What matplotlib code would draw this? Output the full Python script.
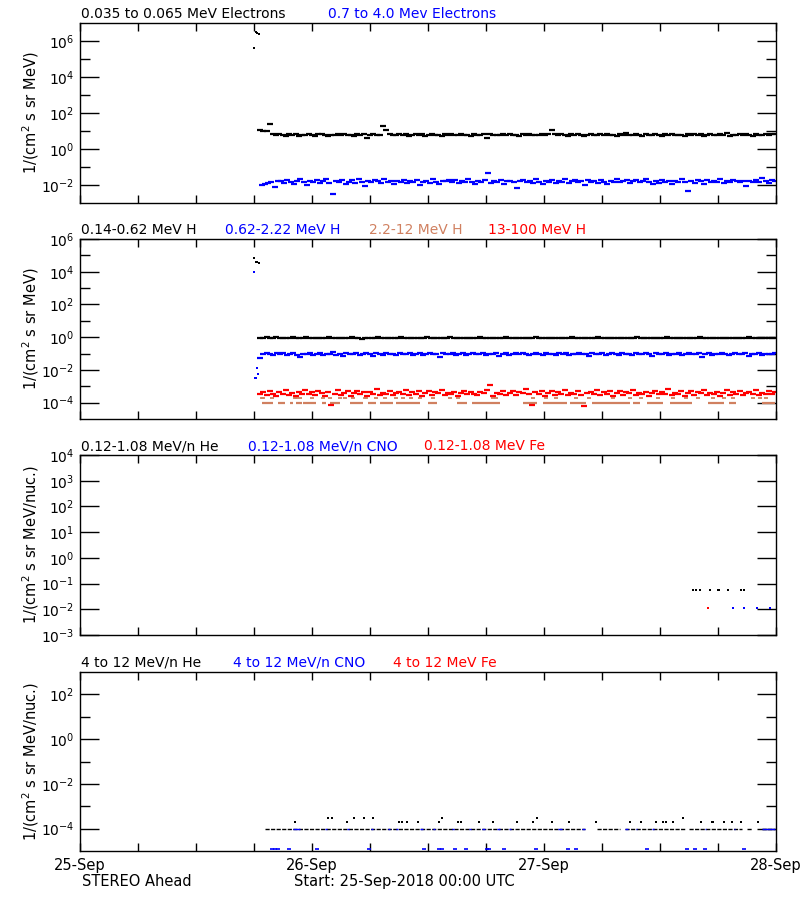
import numpy as np
import matplotlib
matplotlib.use("Agg")
import matplotlib.pyplot as plt
from matplotlib.ticker import FixedLocator, FuncFormatter, NullFormatter

plt.rcParams["font.family"] = ["DejaVu Sans"]
plt.rcParams["mathtext.fontset"] = "dejavusans"

# ---------------- time axis (days since 25-Sep-2018 00:00 UTC) ----------------
day_ticks = [0, 1, 2, 3]
day_labels = ["25-Sep", "26-Sep", "27-Sep", "28-Sep"]

# ---------------- panel 1 : electrons ----------------
elec_lo_spike_t = [0.750, 0.757, 0.764, 0.772]
elec_lo_spike_v = [4.3e5, 3.0e6, 2.7e6, 2.5e6]
elec_lo_span = (0.776, 2.997)
elec_lo_log = [
    1.05, 1.02, 0.98, 1.39, 0.82, 0.76, 0.85, 0.79, 0.74, 0.81, 0.78, 0.83, 0.72, 0.80,
    0.77, 0.84, 0.79, 0.75, 0.81, 0.86, 0.78, 0.73, 0.80, 0.77, 0.82, 0.79, 0.84, 0.76,
    0.80, 0.74, 0.83, 0.78, 0.81, 0.62, 0.79, 0.85, 0.77, 0.80, 1.30, 1.05, 0.82, 0.79,
    0.76, 0.84, 0.78, 0.81, 0.73, 0.80, 0.86, 0.77, 0.82, 0.75, 0.79, 0.83, 0.78, 0.80,
    0.74, 0.81, 0.77, 0.85, 0.79, 0.76, 0.82, 0.78, 0.80, 0.73, 0.84, 0.79, 0.77, 0.81,
    0.60, 0.83, 0.78, 0.80, 0.76, 0.82, 0.79, 0.85, 0.77, 0.80, 0.74, 0.81, 0.78, 0.83,
    0.76, 0.80, 0.79, 0.82, 0.77, 0.81, 1.05, 0.82, 0.78, 0.86, 0.80, 0.75, 0.81, 0.77,
    0.84, 0.79, 0.73, 0.80, 0.83, 0.78, 0.76, 0.82, 0.79, 0.85, 0.77, 0.80, 0.74, 0.81,
    0.78, 0.88, 0.80, 0.76, 0.82, 0.79, 0.75, 0.83, 0.78, 0.80, 0.86, 0.77, 0.72, 0.81,
    0.79, 0.84, 0.76, 0.80, 0.78, 0.70, 0.82, 0.79, 0.85, 0.77, 0.81, 0.74, 0.80, 0.83,
    0.78, 0.76, 0.82, 0.79, 0.87, 0.73, 0.80, 0.78, 0.84, 0.77, 0.81, 0.79, 0.75, 0.82,
    0.80, 0.78, 0.85, 0.77, 0.81, 0.83,
]
elec_hi_span = (0.783, 2.997)
elec_hi_log = [
    -2.02, -1.95, -1.90, -1.85, -2.10, -1.80, -1.75, -1.88, -1.70, -1.82, -1.93, -1.78,
    -1.68, -1.85, -1.98, -1.76, -1.83, -1.72, -1.90, -1.80, -1.65, -1.87, -2.48, -1.79,
    -1.84, -1.71, -1.95, -1.81, -1.74, -1.88, -1.69, -1.83, -2.05, -1.77, -1.86, -1.73,
    -1.80, -1.91, -1.66, -1.84, -1.78, -1.96, -1.75, -1.82, -1.70, -1.89, -1.79, -1.85,
    -1.72, -2.00, -1.81, -1.76, -1.87, -1.68, -1.83, -1.93, -1.77, -1.80, -1.74, -1.86,
    -1.71, -1.90, -1.79, -1.84, -1.67, -1.82, -1.97, -1.76, -1.81, -1.73, -1.35, -1.88,
    -1.78, -1.83, -1.70, -1.92, -1.80, -1.75, -1.86, -2.15, -1.79, -1.72, -1.84, -1.77,
    -1.89, -1.69, -1.81, -1.94, -1.76, -1.83, -1.71, -1.87, -1.78, -1.82, -1.66, -1.90,
    -1.80, -1.74, -1.85, -1.79, -2.02, -1.73, -1.84, -1.77, -1.88, -1.70, -1.81, -1.95,
    -1.76, -1.83, -1.68, -1.86, -1.79, -1.74, -1.91, -1.80, -1.72, -1.85, -1.78, -1.64,
    -1.82, -1.97, -1.75, -1.87, -1.71, -1.83, -1.79, -1.93, -1.76, -1.84, -1.69, -1.81,
    -2.33, -1.77, -1.88, -1.72, -1.80, -1.95, -1.74, -1.85, -1.78, -1.82, -1.67, -1.89,
    -1.76, -1.83, -1.71, -1.80, -1.86, -1.75, -2.05, -1.79, -1.84, -1.70, -1.81, -1.62,
    -1.77, -1.88, -1.73, -1.80,
]

# ---------------- panel 2 : protons ----------------
h_lo_spike_t = [0.751, 0.758, 0.764, 0.771]
h_lo_spike_v = [6.6e4, 4.2e4, 3.8e4, 3.3e4]
h_mid_spike_t = [0.752, 0.756, 0.760, 0.764, 0.768]
h_mid_spike_v = [1.0e4, 3.2e-3, 3.2e-3, 1.3e-2, 6.0e-3]
h_lo_span = (0.776, 2.997)
h_lo_log = [
    -0.02, -0.05, 0.00, -0.03, -0.06, -0.01, -0.04, -0.07, -0.02, -0.05, 0.01, -0.03,
    -0.06, -0.04, -0.01, -0.05, -0.08, -0.03, -0.02, -0.06, -0.04, 0.00, -0.05, -0.03,
    -0.07, -0.02, -0.04, -0.06, -0.01, -0.05, -0.03, -0.09, -0.04, -0.02, -0.06, -0.03,
    0.02, -0.05, -0.04, -0.07, -0.02, -0.03, -0.06, -0.01, -0.04, -0.05, -0.02, -0.08,
    -0.03, -0.06, -0.04, -0.01, -0.05, -0.03, -0.07, -0.02, -0.04, -0.06, 0.00, -0.05,
    -0.03, -0.04, -0.07, -0.02, -0.05, -0.03, -0.06, -0.01, -0.04, -0.08, -0.03, -0.05,
    -0.02, -0.06, -0.04, 0.01, -0.05, -0.03, -0.07, -0.04, -0.02, -0.06, -0.03, -0.05,
    -0.01, -0.04, -0.07, -0.03, -0.05, -0.02, -0.06, -0.04, -0.08, -0.03, -0.05, 0.00,
    -0.04, -0.06, -0.02, -0.05, -0.03, -0.07, -0.04, -0.01, -0.05, -0.03, -0.06, -0.02,
    -0.04, -0.07, -0.03, -0.05, -0.02, -0.06, -0.04, -0.01, -0.05, -0.08, -0.03, -0.04,
    -0.06, -0.02, -0.05, -0.03, 0.01, -0.04, -0.07, -0.03, -0.05, -0.02, -0.06, -0.04,
    -0.03, -0.05, -0.01, -0.06, -0.04, -0.07, -0.02, -0.05, -0.03, -0.04, -0.06, -0.02,
    -0.05, -0.08, -0.03, -0.04, -0.06, -0.01, -0.05, -0.03, -0.07, -0.04, -0.02, -0.05,
    -0.06, -0.03,
]
h_mid_span = (0.776, 2.997)
h_mid_log = [
    -1.25, -1.05, -0.98, -1.02, -1.10, -0.95, -1.04, -0.99, -1.08, -1.01, -0.94, -1.06,
    -1.20, -1.00, -1.03, -0.97, -1.07, -1.02, -0.96, -1.09, -1.01, -1.04, -0.93, -1.06,
    -1.00, -1.12, -0.98, -1.03, -1.05, -0.96, -1.08, -1.01, -0.99, -1.04, -1.15, -0.97,
    -1.02, -1.06, -0.95, -1.03, -1.00, -1.08, -0.98, -1.04, -1.01, -0.94, -1.07, -1.02,
    -0.99, -1.10, -1.03, -0.96, -1.05, -1.00, -1.22, -0.98, -1.04, -1.01, -0.97, -1.06,
    -1.02, -0.95, -1.08, -1.03, -0.99, -1.05, -1.00, -0.96, -1.09, -1.02, -1.04, -0.98,
    -1.14, -1.01, -0.97, -1.06, -1.03, -0.99, -1.05, -0.94, -1.02, -1.07, -1.00, -0.98,
    -1.04, -1.11, -0.96, -1.03, -1.01, -1.06, -0.99, -1.02, -0.95, -1.08, -1.04, -1.00,
    -0.97, -1.05, -1.02, -1.18, -0.98, -1.03, -1.01, -0.96, -1.07, -1.04, -0.99, -1.02,
    -1.06, -0.95, -1.03, -1.00, -1.09, -0.98, -1.04, -1.01, -0.97, -1.05, -1.12, -0.99,
    -1.03, -1.02, -0.96, -1.06, -1.00, -1.04, -0.98, -1.08, -1.01, -0.97, -1.05, -1.03,
    -0.99, -1.21, -1.02, -0.95, -1.06, -1.00, -1.04, -0.98, -1.03, -1.07, -1.01, -0.96,
    -1.05, -1.02, -0.99, -1.15, -1.04, -1.00, -0.97, -1.06, -1.03, -1.01, -1.05, -0.98,
]
h_hi_span = (0.776, 2.997)
h_hi_log = [
    -3.50, -3.38, -3.55, -3.30, -3.45, -3.58, -3.35, -3.48, -3.25, -3.52, -3.40, -3.60,
    -3.33, -3.46, -3.20, -3.50, -3.38, -3.55, -3.28, -3.44, -3.62, -3.36, -4.16, -3.48,
    -3.22, -3.53, -3.40, -3.31, -3.57, -3.43, -3.26, -3.50, -3.37, -3.59, -3.32, -3.45,
    -3.18, -3.52, -3.39, -3.47, -3.29, -3.56, -3.41, -3.34, -3.49, -3.23, -3.54, -3.38,
    -3.46, -3.30, -3.58, -3.42, -3.27, -3.51, -3.36, -3.44, -3.21, -3.55, -3.39, -3.48,
    -3.32, -3.60, -3.43, -3.28, -3.50, -3.37, -3.46, -3.53, -3.33, -3.41, -3.24, -2.90,
    -3.57, -3.39, -3.47, -3.30, -3.52, -3.40, -3.26, -3.55, -3.35, -3.44, -3.19, -3.50,
    -4.15, -3.38, -3.46, -3.31, -3.58, -3.42, -3.27, -3.53, -3.36, -3.45, -3.22, -3.51,
    -3.39, -3.48, -3.29, -3.56, -4.18, -3.43, -3.34, -3.49, -3.25, -3.54, -3.37, -3.46,
    -3.31, -3.59, -3.41, -3.28, -3.52, -3.38, -3.44, -3.20, -3.55, -3.40, -3.47, -3.33,
    -3.57, -3.42, -3.26, -3.50, -3.36, -3.45, -3.16, -3.53, -3.39, -3.48, -3.30, -3.58,
    -3.43, -3.27, -3.51, -3.37, -3.44, -3.21, -3.55, -3.40, -3.49, -3.32, -3.60, -3.42,
    -3.25, -3.52, -3.38, -3.46, -3.29, -3.56, -3.41, -3.34, -3.48, -3.23, -3.54, -3.39,
    -3.45, -3.31, -3.50, -3.36,
]
# 2.2-12 MeV H: one-count floor (1e-4) segments and 2e-4 points
h_22_floor = 1e-4
h_22_floor_start = [0.783, 0.854, 0.904, 0.933, 0.962, 1.041, 1.077, 1.163, 1.242, 1.292,
                    1.364, 1.499, 1.624, 1.688, 1.908, 1.994, 2.110, 2.209, 2.382, 2.442,
                    2.541, 2.705, 2.799, 2.941]
h_22_floor_end = [0.832, 0.883, 0.919, 0.955, 1.019, 1.062, 1.120, 1.220, 1.278, 1.349,
                  1.464, 1.537, 1.667, 1.809, 1.968, 2.097, 2.183, 2.369, 2.412, 2.511,
                  2.640, 2.778, 2.829, 2.997]
h_22_upper = 2e-4
h_22_upper_t = [0.783, 0.790, 0.826, 0.926, 0.933, 0.947, 0.998, 1.048, 1.077, 1.120,
                1.141, 1.177, 1.227, 1.234, 1.278, 1.314, 1.364, 1.392, 1.428, 1.464,
                1.521, 1.593, 1.629, 1.780, 1.794, 1.952, 2.010, 2.053, 2.139, 2.196,
                2.297, 2.369, 2.419, 2.491, 2.555, 2.613, 2.663, 2.727, 2.778, 2.813,
                2.899, 2.929, 2.958]

# ---------------- panel 3 : 0.12-1.08 MeV/n heavy ions ----------------
he_lo_t = [2.641, 2.657, 2.674, 2.717, 2.748, 2.756, 2.795, 2.851, 2.860]
he_lo_v = [0.055, 0.055, 0.055, 0.055, 0.055, 0.055, 0.055, 0.055, 0.055]
cno_lo_t = [2.815, 2.860, 2.916, 2.972]
cno_lo_v = [0.011, 0.011, 0.011, 0.011]
fe_lo_t = [2.708]
fe_lo_v = [0.011]

# ---------------- panel 4 : 4-12 MeV/n heavy ions ----------------
he_hi_floor = 1e-4
he_hi_floor_start = [0.797, 2.227, 2.347, 2.627, 2.873, 2.941]
he_hi_floor_end = [2.175, 2.326, 2.610, 2.855, 2.898, 2.997]
he_hi_2_t = [0.926, 1.150, 1.374, 1.387, 1.408, 1.456, 1.546, 1.628, 1.641, 1.718,
             1.779, 1.882, 1.951, 2.033, 2.106, 2.226, 2.369, 2.416, 2.481, 2.511,
             2.528, 2.554, 2.675, 2.722, 2.730, 2.778, 2.812, 2.851, 2.924]
he_hi_2_v = 2e-4
he_hi_3_t = [1.068, 1.085, 1.180, 1.223, 1.262, 1.559, 1.968, 2.601]
he_hi_3_v = 3e-4
cno_hi_floor = 1e-4
cno_hi_floor_start = [0.917, 1.055, 1.150, 1.253, 1.326, 1.361, 1.464, 1.520, 1.602, 1.675,
                      1.731, 1.796, 1.848, 2.059, 2.162, 2.351, 2.395, 2.464, 2.692, 2.817,
                      2.941]
cno_hi_floor_end = [0.947, 1.064, 1.158, 1.262, 1.335, 1.370, 1.477, 1.529, 1.611, 1.684,
                    1.744, 1.809, 1.857, 2.076, 2.175, 2.360, 2.403, 2.472, 2.700, 2.825,
                    2.997]
cno_hi_low_t = [0.827, 0.840, 0.853, 0.900, 1.021, 1.245, 1.481, 1.546, 1.559, 1.615,
                1.662, 1.753, 1.761, 1.826, 1.964, 2.102, 2.140, 2.446, 2.618, 2.653,
                2.692, 2.864]
cno_hi_low_v = 1.2e-5

# ---------------- styling ----------------
BROWN = "#d08060"
BLUE = "#0000ff"
RED = "#ff0000"
W, H = 800, 900
fig = plt.figure(figsize=(W / 100, H / 100), dpi=100)

def axes_px(top, bottom):
    return fig.add_axes([80 / W, 1 - bottom / H, 696 / W, (bottom - top) / H])

def fmt_pow(v, pos):
    return r"$\mathdefault{10^{%d}}$" % int(round(np.log10(v)))

def style(ax, ylim, majors, minors, ylabel, show_x=False):
    ax.set_yscale("log")
    ax.set_ylim(*ylim)
    ax.set_xlim(0, 3)
    ax.yaxis.set_major_locator(FixedLocator(majors))
    ax.yaxis.set_minor_locator(FixedLocator(minors))
    ax.yaxis.set_major_formatter(FuncFormatter(fmt_pow))
    ax.yaxis.set_minor_formatter(NullFormatter())
    ax.xaxis.set_major_locator(FixedLocator(day_ticks))
    ax.xaxis.set_minor_locator(FixedLocator(np.arange(0.25, 3, 0.25)))
    if show_x:
        ax.set_xticklabels(day_labels)
    else:
        ax.set_xticklabels([])
    ax.tick_params(axis="y", which="major", direction="in", length=14, width=1,
                   left=True, right=True, labelsize=10, pad=4)
    ax.tick_params(axis="y", which="minor", direction="in", length=7, width=1,
                   left=True, right=True)
    ax.tick_params(axis="x", which="both", direction="in", length=6, width=1,
                   top=True, bottom=True, labelsize=10.5, pad=5)
    for s in ax.spines.values():
        s.set_linewidth(1.0)
    ax.set_ylabel(ylabel, fontsize=10.5)
    ax.yaxis.set_label_coords(-0.056, 0.5)

def dots(ax, t, v, color, ms=4.0, marker="_", mew=1.6):
    ax.plot(t, v, linestyle="none", marker=marker, ms=ms, mew=mew, color=color,
            mec=color, mfc=color, clip_on=True)

def series(span, logs):
    t = np.linspace(span[0], span[1], len(logs))
    return t, 10.0 ** np.asarray(logs)

unit1 = r"1/(cm$^2$ s sr MeV)"
unit2 = r"1/(cm$^2$ s sr MeV/nuc.)"

# panel 1
ax1 = axes_px(23, 203)
style(ax1, (1e-3, 1e7), [1e6, 1e4, 1e2, 1e0, 1e-2], [1e5, 1e3, 1e1, 1e-1], unit1)
dots(ax1, elec_lo_spike_t, elec_lo_spike_v, "black", ms=1.8, marker="s", mew=0)
dots(ax1, *series(elec_lo_span, elec_lo_log), "black")
dots(ax1, *series(elec_hi_span, elec_hi_log), BLUE)

# panel 2
ax2 = axes_px(239, 419)
style(ax2, (1e-5, 1e6), [1e6, 1e4, 1e2, 1e0, 1e-2, 1e-4], [1e5, 1e3, 1e1, 1e-1, 1e-3], unit1)
ax2.hlines([h_22_floor] * len(h_22_floor_start), h_22_floor_start, h_22_floor_end,
           color=BROWN, lw=1.6)
dots(ax2, h_22_upper_t, [h_22_upper] * len(h_22_upper_t), BROWN, ms=2.5, mew=1.3)
dots(ax2, *series(h_hi_span, h_hi_log), RED)
dots(ax2, *series(h_mid_span, h_mid_log), BLUE)
dots(ax2, *series(h_lo_span, h_lo_log), "black")
dots(ax2, h_lo_spike_t, h_lo_spike_v, "black", ms=1.8, marker="s", mew=0)
dots(ax2, h_mid_spike_t, h_mid_spike_v, BLUE, ms=1.8, marker="s", mew=0)

# panel 3
ax3 = axes_px(455, 635)
style(ax3, (1e-3, 1e4), [1e4, 1e3, 1e2, 1e1, 1e0, 1e-1, 1e-2, 1e-3], [], unit2)
dots(ax3, he_lo_t, he_lo_v, "black", ms=2.0, marker="s", mew=0)
dots(ax3, cno_lo_t, cno_lo_v, BLUE, ms=2.0, marker="s", mew=0)
dots(ax3, fe_lo_t, fe_lo_v, RED, ms=2.0, marker="s", mew=0)

# panel 4
ax4 = axes_px(672, 851)
style(ax4, (1e-5, 1e3), [1e2, 1e0, 1e-2, 1e-4], [1e1, 1e-1, 1e-3], unit2, show_x=True)
ax4.hlines([he_hi_floor] * len(he_hi_floor_start), he_hi_floor_start, he_hi_floor_end,
           color="black", lw=1.0, linestyles=(0, (3, 1)))
ax4.hlines([cno_hi_floor] * len(cno_hi_floor_start), cno_hi_floor_start, cno_hi_floor_end,
           color=BLUE, lw=1.0)
dots(ax4, he_hi_2_t, [he_hi_2_v] * len(he_hi_2_t), "black", ms=2.0, marker="s", mew=0)
dots(ax4, he_hi_3_t, [he_hi_3_v] * len(he_hi_3_t), "black", ms=2.0, marker="s", mew=0)
dots(ax4, cno_hi_low_t, [cno_hi_low_v] * len(cno_hi_low_t), BLUE, ms=2.2, mew=1.2)

# titles
def ftext(x, y, s, color="black", size=10):
    fig.text(x / W, 1 - y / H, s, color=color, fontsize=size, ha="left", va="baseline")

ftext(81, 18.5, "0.035 to 0.065 MeV Electrons")
ftext(328, 18.5, "0.7 to 4.0 Mev Electrons", BLUE)
ftext(81, 234, "0.14-0.62 MeV H")
ftext(225, 234, "0.62-2.22 MeV H", BLUE)
ftext(369, 234, "2.2-12 MeV H", BROWN)
ftext(488, 234, "13-100 MeV H", RED)
ftext(81, 450, "0.12-1.08 MeV/n He")
ftext(248, 450, "0.12-1.08 MeV/n CNO", BLUE)
ftext(424, 450, "0.12-1.08 MeV Fe", RED)
ftext(81, 667, "4 to 12 MeV/n He")
ftext(233, 667, "4 to 12 MeV/n CNO", BLUE)
ftext(393, 667, "4 to 12 MeV Fe", RED)
ftext(82, 886, "STEREO Ahead", size=10.5)
ftext(294, 886, "Start: 25-Sep-2018 00:00 UTC", size=10.5)

fig.savefig("out.png", dpi=100)
